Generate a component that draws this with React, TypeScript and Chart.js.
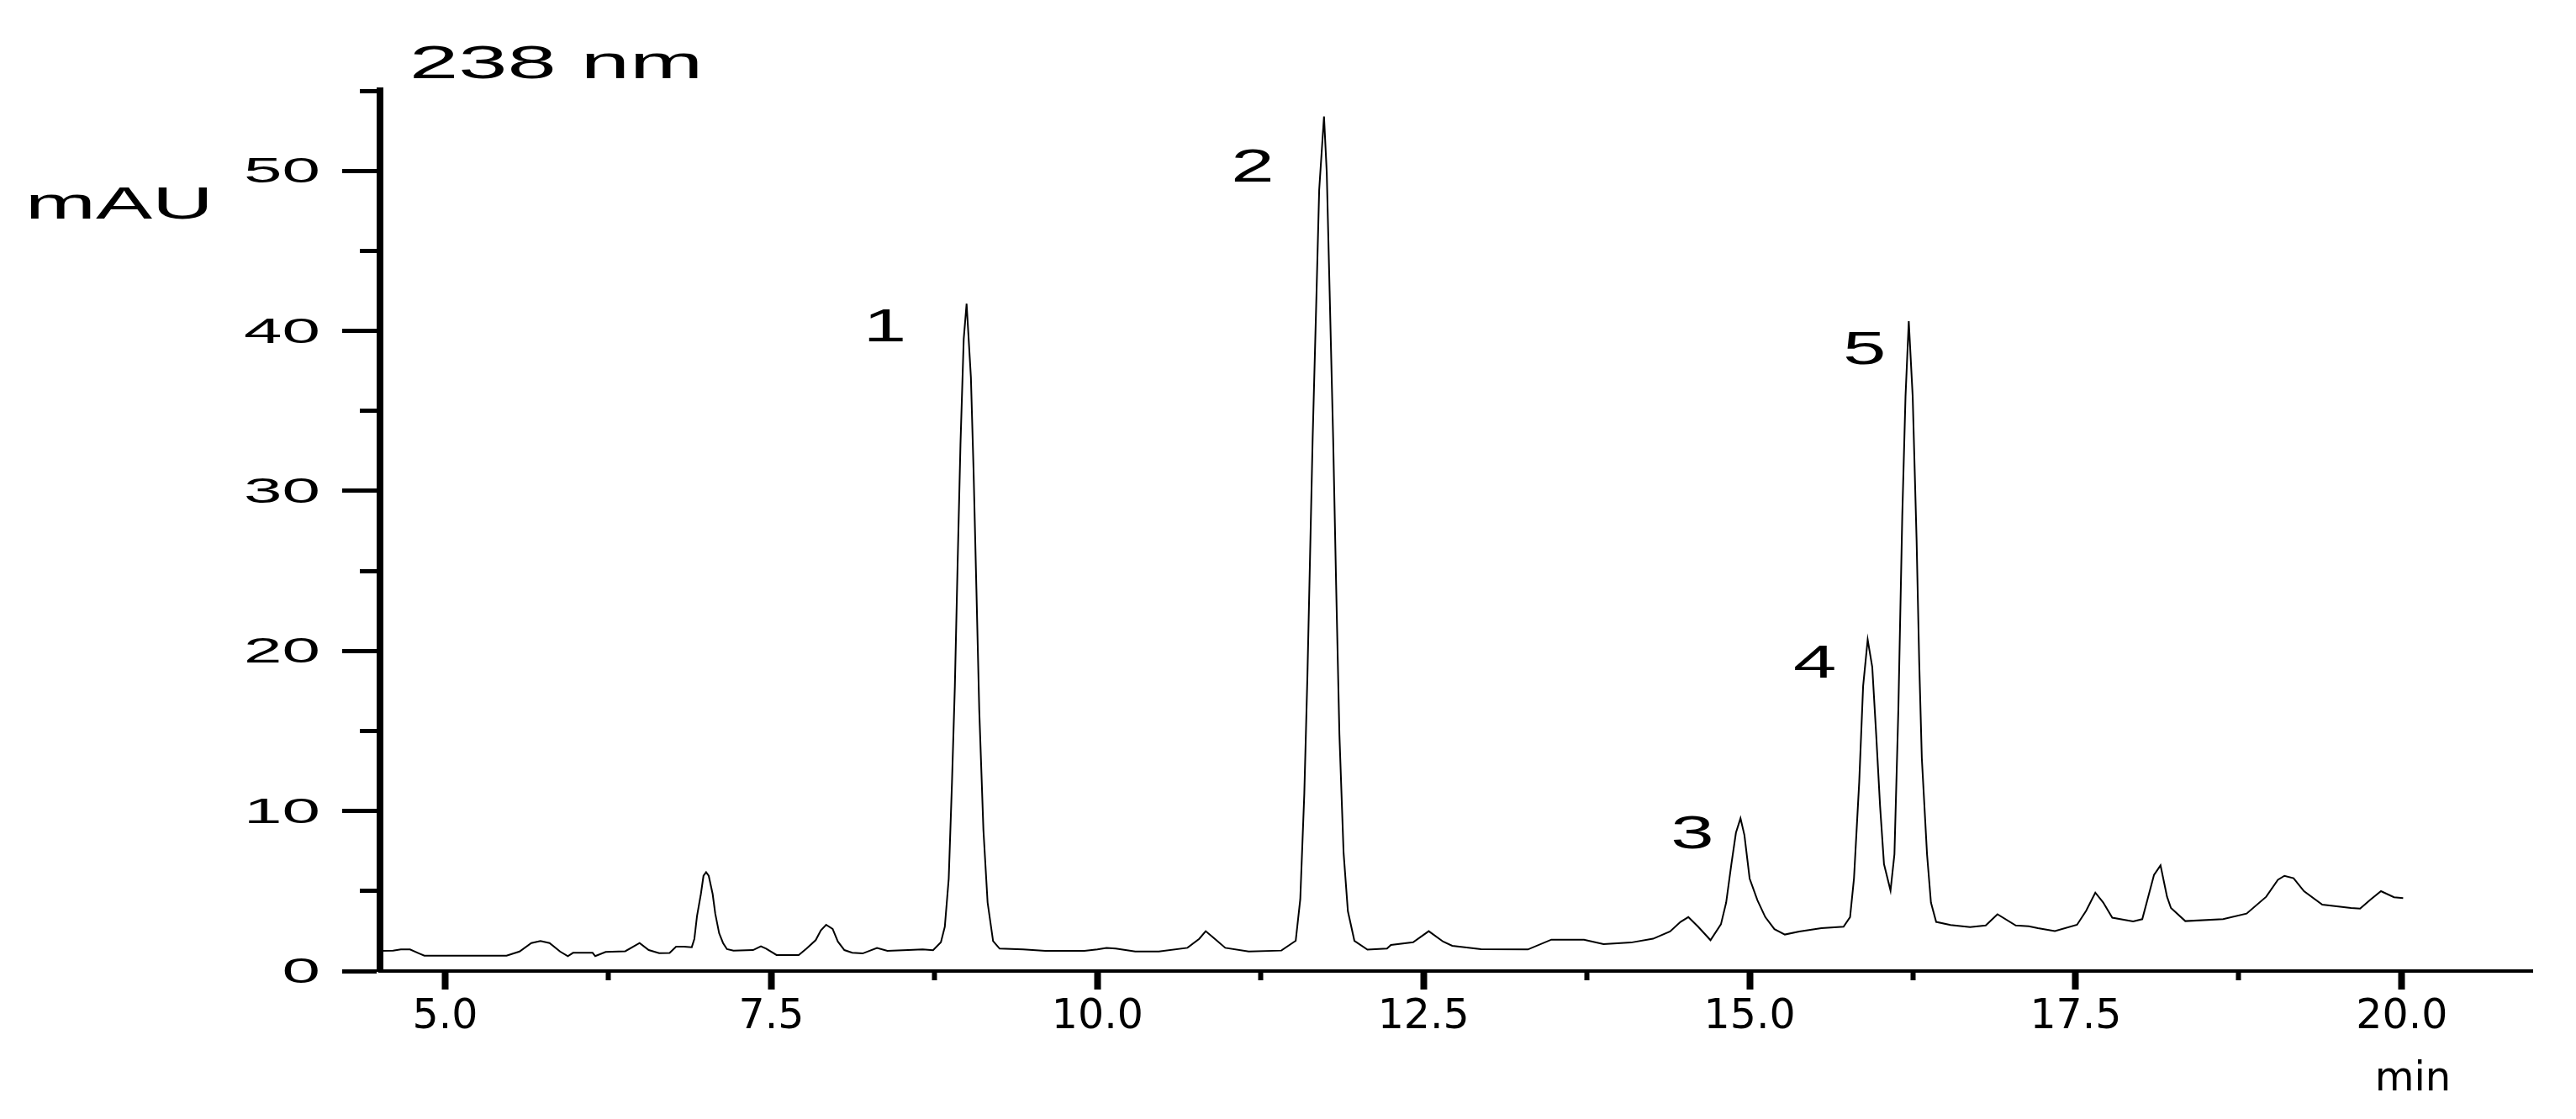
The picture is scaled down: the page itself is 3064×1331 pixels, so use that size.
import React, { useEffect, useRef } from 'react';
import { Chart, registerables } from 'chart.js';

Chart.register(...registerables);

// Retention time (min)
const times: number[] = [
  4.50, 4.60, 4.66, 4.73, 4.80, 4.84, 5.47, 5.57, 5.66, 5.73, 5.80, 5.88, 5.94, 5.98, 6.13, 6.15,
  6.23, 6.38, 6.44, 6.49, 6.56, 6.64, 6.72, 6.77, 6.83, 6.89, 6.91, 6.93, 6.96, 6.98, 7.00, 7.02,
  7.05, 7.07, 7.10, 7.13, 7.16, 7.21, 7.36, 7.42, 7.46, 7.54, 7.71, 7.77, 7.84, 7.88, 7.92, 7.97,
  8.01, 8.06, 8.12, 8.20, 8.31, 8.39, 8.55, 8.66, 8.74, 8.80, 8.83, 8.86, 8.885, 8.907, 8.928, 8.95,
  8.975, 8.997, 9.03, 9.05, 9.072, 9.094, 9.126, 9.158, 9.20, 9.25, 9.43, 9.60, 9.90, 10.00, 10.07, 10.14,
  10.29, 10.47, 10.69, 10.78, 10.83, 10.90, 10.98, 11.16, 11.41, 11.52, 11.555, 11.586, 11.61, 11.63, 11.65, 11.68,
  11.70, 11.737, 11.758, 11.78, 11.807, 11.83, 11.855, 11.887, 11.92, 11.97, 12.07, 12.22, 12.25, 12.42, 12.54, 12.65,
  12.72, 12.94, 13.30, 13.48, 13.73, 13.88, 14.09, 14.26, 14.39, 14.47, 14.53, 14.605, 14.70, 14.78, 14.82, 14.86,
  14.895, 14.93, 14.96, 15.00, 15.06, 15.12, 15.19, 15.27, 15.38, 15.55, 15.72, 15.77, 15.80, 15.84, 15.87, 15.905,
  15.94, 15.97, 16.00, 16.03, 16.08, 16.11, 16.14, 16.17, 16.195, 16.22, 16.25, 16.28, 16.30, 16.32, 16.36, 16.39,
  16.43, 16.54, 16.69, 16.81, 16.90, 17.04, 17.14, 17.21, 17.34, 17.51, 17.58, 17.65, 17.71, 17.78, 17.94, 18.01,
  18.05, 18.10, 18.15, 18.20, 18.23, 18.34, 18.63, 18.81, 18.96, 19.05, 19.10, 19.17, 19.25, 19.39, 19.61, 19.68,
  19.76, 19.84, 19.94, 20.01,
];

// Absorbance (mAU)
const absorbance: number[] = [
  1.26, 1.28, 1.35, 1.35, 1.10, 0.96, 0.96, 1.22, 1.75, 1.88, 1.75, 1.22, 0.93, 1.14, 1.14, 0.93,
  1.19, 1.24, 1.52, 1.75, 1.31, 1.12, 1.13, 1.52, 1.52, 1.49, 2.01, 3.42, 4.82, 5.95, 6.18, 5.95,
  4.82, 3.59, 2.36, 1.75, 1.37, 1.28, 1.31, 1.54, 1.40, 1.00, 1.00, 1.40, 1.93, 2.54, 2.89, 2.63,
  1.84, 1.31, 1.14, 1.10, 1.44, 1.26, 1.31, 1.35, 1.30, 1.80, 2.77, 5.78, 11.8, 17.8, 25.4, 32.9,
  39.5, 41.7, 37.1, 31.4, 23.9, 16.3, 8.8, 4.28, 1.87, 1.40, 1.35, 1.26, 1.26, 1.35, 1.45, 1.40,
  1.22, 1.22, 1.45, 2.01, 2.49, 2.01, 1.45, 1.22, 1.28, 1.89, 4.48, 11.1, 18.5, 25.9, 33.3, 42.5,
  48.8, 53.4, 49.9, 42.5, 33.3, 24.1, 14.8, 7.4, 3.74, 1.89, 1.34, 1.40, 1.63, 1.80, 2.49, 1.84,
  1.58, 1.37, 1.35, 1.96, 1.96, 1.68, 1.78, 2.02, 2.47, 3.07, 3.37, 2.77, 1.93, 2.92, 4.28, 6.68,
  8.64, 9.54, 8.49, 5.78, 4.42, 3.37, 2.62, 2.28, 2.47, 2.68, 2.77, 3.37, 5.78, 11.8, 17.8, 20.7,
  19.0, 14.8, 10.3, 6.68, 5.03, 7.29, 16.3, 28.4, 35.9, 40.6, 35.9, 26.9, 19.3, 13.3, 7.29, 4.28,
  3.07, 2.88, 2.75, 2.85, 3.55, 2.85, 2.80, 2.68, 2.50, 2.89, 3.77, 4.90, 4.29, 3.33, 3.10, 3.24,
  4.47, 6.0, 6.6, 4.64, 3.94, 3.12, 3.24, 3.59, 4.64, 5.7, 5.95, 5.8, 4.99, 4.15, 3.94, 3.90,
  4.47, 4.99, 4.61, 4.56,
];

const xMajorTicks: number[] = [5.0, 7.5, 10.0, 12.5, 15.0, 17.5, 20.0];
const xMinorTicks: number[] = [6.25, 8.75, 11.25, 13.75, 16.25, 18.75];
const yMajorTicks: number[] = [0, 10, 20, 30, 40, 50];
const yMinorTicks: number[] = [5, 15, 25, 35, 45, 55];

const peakLabels: string[] = ['1', '2', '3', '4', '5'];
const peakLabelTimes: number[] = [8.37, 11.19, 14.56, 15.50, 15.88];
const peakLabelValues: number[] = [40.4, 50.4, 8.7, 19.4, 39.0];

const wavelengthLabel = '238 nm';
const yAxisTitle = 'mAU';
const xAxisTitle = 'min';

const ARIAL = '"Liberation Sans", Arial, sans-serif';

function drawStretched(ctx: CanvasRenderingContext2D, text: string, x: number, y: number,
  size: number, sx: number, align: 'left' | 'right' | 'center') {
  ctx.save();
  ctx.font = `${size}px ${ARIAL}`;
  ctx.fillStyle = '#000';
  ctx.textBaseline = 'alphabetic';
  ctx.textAlign = 'left';
  const w = ctx.measureText(text).width * sx;
  const left = align === 'right' ? x - w : align === 'center' ? x - w / 2 : x;
  ctx.translate(left, y);
  ctx.scale(sx, 1);
  ctx.fillText(text, 0, 0);
  ctx.restore();
}

const textPlugin = {
  id: 'chromText',
  afterDraw(chart: any) {
    const ctx: CanvasRenderingContext2D = chart.ctx;
    const xs = chart.scales.x;
    const ys = chart.scales.y;
    const area = chart.chartArea;
    // y tick labels
    yMajorTicks.forEach((v) => {
      drawStretched(ctx, String(v), area.left - 71, ys.getPixelForValue(v) + 14, 43, 1.9, 'right');
    });
    // y unit
    drawStretched(ctx, yAxisTitle, 30, 260, 53, 1.9, 'left');
    // wavelength
    drawStretched(ctx, wavelengthLabel, area.left + 35, 93, 56, 1.87, 'left');
    // peak numbers
    peakLabels.forEach((lab, i) => {
      const px = xs.getPixelForValue(peakLabelTimes[i]);
      const py = ys.getPixelForValue(peakLabelValues[i]);
      drawStretched(ctx, lab, px, py + 20, 56, 1.65, 'center');
    });
    // x unit
    ctx.save();
    ctx.font = '48px "DejaVu Sans", sans-serif';
    ctx.fillStyle = '#000';
    ctx.textAlign = 'center';
    ctx.textBaseline = 'alphabetic';
    ctx.fillText(xAxisTitle, xs.getPixelForValue(20.085), 1297);
    ctx.restore();
  },
};

export default function App() {
  const ref = useRef<HTMLCanvasElement | null>(null);

  useEffect(() => {
    if (!ref.current) return;
    const data = times.map((t, i) => ({ x: t, y: absorbance[i] }));
    const chart = new Chart(ref.current, {
      type: 'line',
      data: {
        datasets: [
          {
            data,
            borderColor: '#000',
            borderWidth: 2,
            pointRadius: 0,
            tension: 0,
            fill: false,
          },
        ],
      },
      options: {
        responsive: false,
        animation: false,
        maintainAspectRatio: false,
        layout: { padding: { left: 0, top: 108, right: 52, bottom: 0 } },
        plugins: { legend: { display: false }, tooltip: { enabled: false }, title: { display: false } },
        scales: {
          x: {
            type: 'linear',
            axis: 'x',
            position: 'bottom',
            min: 4.5,
            max: 21.0,
            afterBuildTicks: (s: any) => { s.ticks = xMajorTicks.map((v) => ({ value: v })); },
            afterFit: (s: any) => { s.height = 176; },
            grid: { display: true, drawOnChartArea: false, drawTicks: true, tickLength: 22, tickWidth: 8, tickColor: '#000' },
            border: { display: true, color: '#000', width: 4 },
            ticks: {
              color: '#000',
              font: { family: '"DejaVu Sans", sans-serif', size: 49 },
              padding: 4,
              maxRotation: 0,
              autoSkip: false,
              callback: (v: any) => Number(v).toFixed(1),
            },
          },
          xMinor: {
            type: 'linear',
            axis: 'x',
            position: { y: 0 },
            min: 4.5,
            max: 21.0,
            afterBuildTicks: (s: any) => { s.ticks = xMinorTicks.map((v) => ({ value: v })); },
            grid: { display: true, drawOnChartArea: false, drawTicks: true, tickLength: 11, tickWidth: 6, tickColor: '#000' },
            border: { display: false },
            ticks: { display: false },
          },
          y: {
            type: 'linear',
            axis: 'y',
            position: 'left',
            min: 0,
            max: 55,
            afterBuildTicks: (s: any) => { s.ticks = yMajorTicks.map((v) => ({ value: v })); },
            afterFit: (s: any) => { s.width = 452; },
            grid: { display: true, drawOnChartArea: false, drawTicks: true, tickLength: 45, tickWidth: 5, tickColor: '#000' },
            border: { display: true, color: '#000', width: 8 },
            ticks: { display: false },
          },
          yMinor: {
            type: 'linear',
            axis: 'y',
            position: { x: 4.5 },
            min: 0,
            max: 55,
            afterBuildTicks: (s: any) => { s.ticks = yMinorTicks.map((v) => ({ value: v })); },
            grid: { display: true, drawOnChartArea: false, drawTicks: true, tickLength: 24, tickWidth: 5, tickColor: '#000' },
            border: { display: false },
            ticks: { display: false },
          },
        },
      } as any,
      plugins: [textPlugin],
    });
    return () => chart.destroy();
  }, []);

  return (
    <div style={{ position: 'fixed', left: 0, top: 0, width: 3064, height: 1331, background: '#fff' }}>
      <canvas ref={ref} width={3064} height={1331} style={{ width: 3064, height: 1331, display: 'block' }} />
    </div>
  );
}
